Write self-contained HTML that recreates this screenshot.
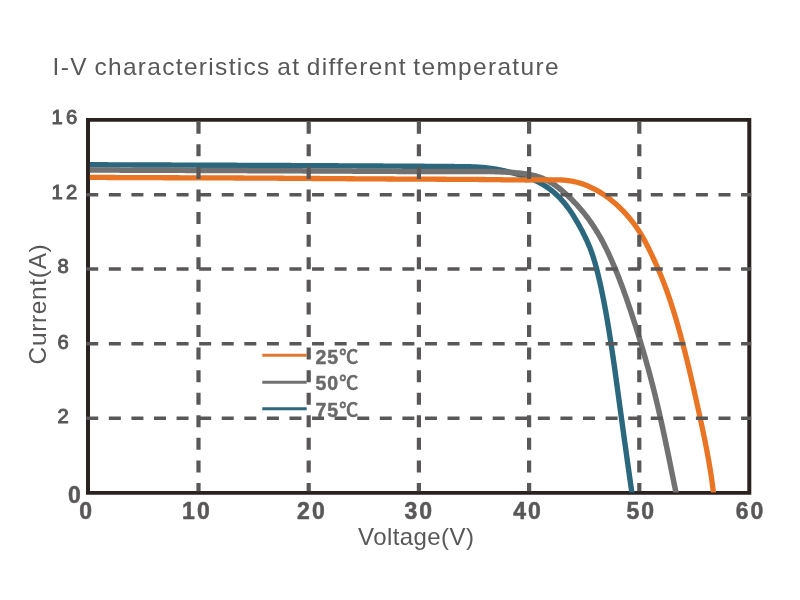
<!DOCTYPE html>
<html lang="en"><head><meta charset="utf-8"><title>I-V characteristics at different temperature</title>
<style>
html,body{margin:0;padding:0;background:#fff;}
body{width:800px;height:600px;overflow:hidden;}
svg{display:block;}
text{font-family:"Liberation Sans","Noto Sans CJK SC",sans-serif;fill:#595757;}
.b{font-weight:bold;}
.k{stroke:#595757;stroke-width:0.5px;}
.m{stroke:#595757;stroke-width:0.95px;}
</style></head><body>
<svg width="800" height="600" viewBox="0 0 800 600">
<rect width="800" height="600" fill="#fff"/>
<path fill-rule="evenodd" fill="#2a2220" d="M86 118.1H751.3V494.7H86Z M90 121.7V491.1H747.3V121.7Z"/>
<defs><clipPath id="cp"><rect x="89.85" y="121.7" width="657.6" height="370.9"/></clipPath></defs>
<g fill="none" stroke-linejoin="round" clip-path="url(#cp)">
<path d="M86.00 164.74 L90.00 164.74 L91.87 164.75 L93.75 164.76 L95.62 164.77 L97.49 164.77 L99.37 164.78 L101.24 164.79 L103.11 164.80 L104.99 164.81 L106.86 164.82 L108.73 164.83 L110.61 164.84 L112.48 164.84 L114.35 164.85 L116.23 164.86 L118.10 164.87 L119.97 164.88 L121.85 164.89 L123.72 164.89 L125.59 164.90 L127.47 164.91 L129.34 164.92 L131.21 164.92 L133.09 164.93 L134.96 164.94 L136.84 164.95 L138.71 164.95 L140.58 164.96 L142.46 164.97 L144.33 164.98 L146.20 164.98 L148.08 164.99 L149.95 165.00 L151.82 165.00 L153.70 165.01 L155.57 165.02 L157.44 165.03 L159.32 165.03 L161.19 165.04 L163.06 165.05 L164.94 165.05 L166.81 165.06 L168.68 165.07 L170.56 165.07 L172.43 165.08 L174.31 165.09 L176.18 165.09 L178.05 165.10 L179.93 165.11 L181.80 165.11 L183.67 165.12 L185.55 165.13 L187.42 165.14 L189.29 165.14 L191.17 165.15 L193.04 165.16 L194.91 165.16 L196.79 165.17 L198.66 165.18 L200.54 165.18 L202.41 165.19 L204.28 165.20 L206.16 165.20 L208.03 165.21 L209.90 165.22 L211.78 165.23 L213.65 165.23 L215.52 165.24 L217.40 165.25 L219.27 165.25 L221.14 165.26 L223.02 165.27 L224.89 165.28 L226.76 165.28 L228.64 165.29 L230.51 165.30 L232.38 165.31 L234.26 165.31 L236.13 165.32 L238.00 165.33 L239.88 165.34 L241.75 165.34 L243.63 165.35 L245.50 165.36 L247.37 165.37 L249.25 165.38 L251.12 165.39 L252.99 165.39 L254.87 165.40 L256.74 165.41 L258.61 165.42 L260.49 165.43 L262.36 165.44 L264.23 165.44 L266.11 165.45 L267.98 165.46 L269.85 165.47 L271.73 165.48 L273.60 165.49 L275.47 165.50 L277.35 165.51 L279.22 165.52 L281.09 165.53 L282.97 165.53 L284.84 165.54 L286.71 165.55 L288.59 165.56 L290.46 165.57 L292.33 165.58 L294.21 165.59 L296.08 165.60 L297.95 165.61 L299.83 165.62 L301.70 165.63 L303.57 165.64 L305.45 165.65 L307.32 165.66 L309.19 165.67 L311.07 165.68 L312.94 165.69 L314.81 165.70 L316.69 165.71 L318.56 165.72 L320.43 165.73 L322.31 165.74 L324.18 165.75 L326.05 165.76 L327.93 165.77 L329.80 165.78 L331.67 165.79 L333.55 165.80 L335.42 165.81 L337.29 165.82 L339.17 165.83 L341.04 165.84 L342.91 165.85 L344.79 165.86 L346.66 165.87 L348.53 165.88 L350.41 165.89 L352.28 165.90 L354.16 165.91 L356.03 165.92 L357.90 165.93 L359.78 165.94 L361.65 165.95 L363.52 165.96 L365.40 165.97 L367.27 165.99 L369.14 166.00 L371.02 166.01 L372.89 166.02 L374.76 166.03 L376.64 166.04 L378.51 166.05 L380.39 166.06 L382.26 166.07 L384.13 166.08 L386.01 166.09 L387.88 166.10 L389.75 166.11 L391.63 166.12 L393.50 166.13 L395.38 166.14 L397.25 166.15 L399.12 166.16 L401.00 166.17 L402.87 166.18 L404.74 166.20 L406.62 166.21 L408.49 166.22 L410.37 166.23 L412.24 166.24 L414.11 166.25 L415.99 166.26 L417.86 166.28 L419.73 166.29 L421.61 166.30 L423.48 166.31 L425.35 166.33 L427.23 166.34 L429.10 166.35 L430.97 166.37 L432.85 166.38 L434.72 166.40 L436.59 166.41 L438.47 166.43 L440.34 166.44 L442.21 166.46 L444.09 166.48 L445.96 166.49 L447.83 166.51 L449.70 166.53 L451.58 166.55 L453.45 166.57 L455.32 166.59 L457.19 166.61 L459.06 166.63 L460.94 166.65 L462.81 166.68 L464.68 166.70 L466.55 166.73 L468.42 166.77 L470.29 166.82 L472.16 166.87 L474.03 166.94 L475.90 167.02 L477.76 167.12 L479.63 167.23 L481.49 167.36 L483.36 167.52 L485.22 167.69 L487.08 167.89 L488.94 168.11 L490.80 168.36 L492.66 168.63 L494.51 168.93 L496.36 169.25 L498.21 169.59 L500.06 169.95 L501.90 170.33 L503.74 170.73 L505.58 171.14 L507.42 171.58 L509.24 172.03 L511.07 172.49 L512.89 172.96 L514.71 173.45 L516.52 173.95 L518.32 174.47 L520.12 174.99 L521.91 175.54 L523.69 176.10 L525.47 176.68 L527.23 177.29 L528.98 177.93 L530.72 178.59 L532.44 179.28 L534.15 180.01 L535.84 180.77 L537.51 181.56 L539.17 182.40 L540.81 183.28 L542.43 184.20 L544.03 185.16 L545.60 186.17 L547.16 187.22 L548.69 188.30 L550.19 189.43 L551.67 190.59 L553.13 191.78 L554.56 193.01 L555.96 194.27 L557.34 195.55 L558.68 196.87 L560.00 198.22 L561.28 199.58 L562.54 200.98 L563.76 202.39 L564.95 203.83 L566.11 205.29 L567.25 206.76 L568.36 208.26 L569.44 209.77 L570.50 211.30 L571.54 212.84 L572.55 214.40 L573.55 215.97 L574.53 217.56 L575.50 219.15 L576.45 220.76 L577.38 222.38 L578.31 224.00 L579.23 225.64 L580.13 227.28 L581.02 228.93 L581.91 230.58 L582.77 232.25 L583.63 233.92 L584.47 235.60 L585.29 237.29 L586.09 238.98 L586.88 240.69 L587.65 242.40 L588.40 244.12 L589.12 245.85 L589.83 247.58 L590.51 249.33 L591.16 251.08 L591.80 252.84 L592.41 254.61 L593.00 256.38 L593.57 258.17 L594.12 259.95 L594.66 261.75 L595.18 263.55 L595.68 265.35 L596.17 267.16 L596.65 268.97 L597.11 270.78 L597.57 272.60 L598.01 274.42 L598.45 276.24 L598.88 278.06 L599.31 279.89 L599.73 281.71 L600.14 283.54 L600.55 285.37 L600.95 287.20 L601.34 289.03 L601.73 290.86 L602.11 292.69 L602.49 294.53 L602.86 296.36 L603.23 298.20 L603.59 300.04 L603.95 301.87 L604.30 303.71 L604.65 305.55 L604.99 307.39 L605.33 309.23 L605.67 311.07 L606.00 312.92 L606.32 314.76 L606.65 316.60 L606.97 318.45 L607.28 320.29 L607.60 322.14 L607.91 323.98 L608.21 325.83 L608.52 327.68 L608.82 329.52 L609.11 331.37 L609.41 333.22 L609.70 335.06 L609.99 336.91 L610.28 338.76 L610.57 340.61 L610.85 342.46 L611.13 344.30 L611.41 346.15 L611.69 348.00 L611.97 349.85 L612.24 351.70 L612.52 353.55 L612.79 355.40 L613.06 357.25 L613.32 359.10 L613.59 360.95 L613.86 362.80 L614.12 364.65 L614.38 366.50 L614.65 368.35 L614.91 370.20 L615.17 372.06 L615.42 373.91 L615.68 375.76 L615.94 377.61 L616.19 379.46 L616.45 381.31 L616.70 383.17 L616.96 385.02 L617.21 386.87 L617.46 388.72 L617.72 390.58 L617.97 392.43 L618.22 394.28 L618.47 396.14 L618.72 397.99 L618.97 399.85 L619.23 401.70 L619.48 403.55 L619.73 405.41 L619.98 407.26 L620.23 409.12 L620.48 410.97 L620.74 412.83 L620.99 414.68 L621.24 416.54 L621.50 418.39 L621.75 420.25 L622.00 422.10 L622.26 423.96 L622.51 425.82 L622.77 427.67 L623.02 429.53 L623.28 431.38 L623.53 433.24 L623.79 435.10 L624.05 436.95 L624.30 438.81 L624.56 440.67 L624.82 442.52 L625.07 444.38 L625.33 446.23 L625.59 448.09 L625.85 449.95 L626.11 451.80 L626.37 453.66 L626.62 455.51 L626.88 457.37 L627.14 459.23 L627.40 461.08 L627.66 462.94 L627.92 464.79 L628.18 466.65 L628.44 468.50 L628.71 470.36 L628.97 472.21 L629.23 474.07 L629.49 475.92 L629.75 477.77 L630.01 479.63 L630.28 481.48 L630.54 483.34 L630.80 485.19 L631.07 487.04 L631.33 488.89 L631.59 490.75 L631.86 492.60 L632.12 494.45" stroke="#2b677d" stroke-width="5.4"/>
<path d="M86.00 170.00 L90.00 170.00 L91.92 170.00 L93.84 170.01 L95.77 170.02 L97.69 170.03 L99.61 170.04 L101.54 170.05 L103.46 170.05 L105.38 170.06 L107.30 170.07 L109.23 170.08 L111.15 170.09 L113.07 170.09 L115.00 170.10 L116.92 170.11 L118.84 170.12 L120.76 170.13 L122.69 170.13 L124.61 170.14 L126.53 170.15 L128.45 170.16 L130.38 170.16 L132.30 170.17 L134.22 170.18 L136.14 170.19 L138.07 170.19 L139.99 170.20 L141.91 170.21 L143.83 170.22 L145.76 170.23 L147.68 170.23 L149.60 170.24 L151.52 170.25 L153.45 170.26 L155.37 170.26 L157.29 170.27 L159.21 170.28 L161.14 170.29 L163.06 170.29 L164.98 170.30 L166.90 170.31 L168.83 170.32 L170.75 170.32 L172.67 170.33 L174.59 170.34 L176.52 170.34 L178.44 170.35 L180.36 170.36 L182.28 170.37 L184.21 170.37 L186.13 170.38 L188.05 170.39 L189.97 170.40 L191.90 170.40 L193.82 170.41 L195.74 170.42 L197.66 170.43 L199.59 170.43 L201.51 170.44 L203.43 170.45 L205.35 170.46 L207.28 170.46 L209.20 170.47 L211.12 170.48 L213.04 170.49 L214.97 170.50 L216.89 170.50 L218.81 170.51 L220.73 170.52 L222.66 170.53 L224.58 170.53 L226.50 170.54 L228.42 170.55 L230.35 170.56 L232.27 170.57 L234.19 170.57 L236.11 170.58 L238.04 170.59 L239.96 170.60 L241.88 170.61 L243.80 170.61 L245.73 170.62 L247.65 170.63 L249.57 170.64 L251.49 170.65 L253.42 170.65 L255.34 170.66 L257.26 170.67 L259.19 170.68 L261.11 170.69 L263.03 170.70 L264.95 170.70 L266.88 170.71 L268.80 170.72 L270.72 170.73 L272.65 170.74 L274.57 170.75 L276.49 170.76 L278.41 170.77 L280.34 170.77 L282.26 170.78 L284.18 170.79 L286.11 170.80 L288.03 170.81 L289.95 170.82 L291.87 170.83 L293.80 170.84 L295.72 170.85 L297.64 170.85 L299.57 170.86 L301.49 170.87 L303.41 170.88 L305.33 170.89 L307.26 170.90 L309.18 170.91 L311.10 170.92 L313.02 170.93 L314.95 170.94 L316.87 170.95 L318.79 170.96 L320.72 170.97 L322.64 170.98 L324.56 170.99 L326.48 171.00 L328.41 171.01 L330.33 171.02 L332.25 171.03 L334.17 171.03 L336.10 171.04 L338.02 171.05 L339.94 171.06 L341.86 171.07 L343.79 171.08 L345.71 171.09 L347.63 171.10 L349.55 171.11 L351.48 171.12 L353.40 171.14 L355.32 171.15 L357.24 171.16 L359.17 171.17 L361.09 171.18 L363.01 171.19 L364.93 171.20 L366.86 171.21 L368.78 171.22 L370.70 171.23 L372.62 171.24 L374.54 171.25 L376.47 171.26 L378.39 171.27 L380.31 171.28 L382.23 171.29 L384.15 171.30 L386.08 171.31 L388.00 171.33 L389.92 171.34 L391.84 171.35 L393.76 171.36 L395.68 171.37 L397.61 171.38 L399.53 171.39 L401.45 171.40 L403.37 171.41 L405.29 171.42 L407.21 171.43 L409.14 171.44 L411.06 171.45 L412.98 171.46 L414.90 171.47 L416.82 171.48 L418.75 171.49 L420.67 171.49 L422.59 171.50 L424.52 171.51 L426.44 171.52 L428.36 171.52 L430.29 171.53 L432.21 171.53 L434.13 171.53 L436.06 171.54 L437.98 171.54 L439.91 171.54 L441.83 171.54 L443.76 171.54 L445.68 171.54 L447.61 171.54 L449.53 171.54 L451.46 171.53 L453.39 171.53 L455.31 171.52 L457.24 171.52 L459.17 171.51 L461.10 171.50 L463.03 171.49 L464.96 171.48 L466.88 171.47 L468.81 171.46 L470.74 171.45 L472.67 171.45 L474.59 171.44 L476.52 171.44 L478.44 171.44 L480.36 171.45 L482.29 171.46 L484.20 171.47 L486.12 171.49 L488.03 171.51 L489.95 171.54 L491.86 171.58 L493.76 171.62 L495.67 171.67 L497.58 171.73 L499.48 171.80 L501.39 171.88 L503.29 171.96 L505.20 172.06 L507.11 172.17 L509.02 172.29 L510.94 172.42 L512.85 172.56 L514.77 172.72 L516.70 172.89 L518.63 173.07 L520.56 173.28 L522.48 173.50 L524.41 173.76 L526.32 174.04 L528.23 174.35 L530.13 174.70 L532.02 175.09 L533.89 175.52 L535.75 175.99 L537.59 176.52 L539.40 177.10 L541.19 177.73 L542.96 178.42 L544.69 179.18 L546.40 180.00 L548.09 180.87 L549.74 181.79 L551.37 182.77 L552.98 183.79 L554.56 184.86 L556.12 185.97 L557.66 187.11 L559.18 188.29 L560.68 189.49 L562.16 190.72 L563.62 191.98 L565.06 193.25 L566.49 194.54 L567.90 195.85 L569.30 197.17 L570.67 198.50 L572.04 199.84 L573.39 201.21 L574.72 202.58 L576.03 203.97 L577.33 205.38 L578.61 206.80 L579.88 208.23 L581.13 209.68 L582.36 211.14 L583.57 212.62 L584.77 214.12 L585.95 215.63 L587.12 217.16 L588.27 218.70 L589.40 220.26 L590.52 221.83 L591.61 223.41 L592.69 225.01 L593.76 226.61 L594.81 228.23 L595.84 229.86 L596.85 231.50 L597.85 233.15 L598.83 234.81 L599.79 236.48 L600.73 238.16 L601.66 239.84 L602.58 241.53 L603.47 243.23 L604.35 244.93 L605.22 246.64 L606.08 248.36 L606.92 250.09 L607.74 251.82 L608.56 253.55 L609.37 255.29 L610.16 257.04 L610.95 258.79 L611.72 260.54 L612.49 262.30 L613.24 264.07 L614.00 265.84 L614.74 267.61 L615.47 269.39 L616.20 271.17 L616.92 272.95 L617.64 274.74 L618.34 276.53 L619.04 278.32 L619.74 280.11 L620.42 281.91 L621.10 283.71 L621.78 285.51 L622.45 287.32 L623.11 289.13 L623.77 290.94 L624.42 292.75 L625.07 294.56 L625.71 296.37 L626.34 298.19 L626.97 300.00 L627.60 301.82 L628.22 303.64 L628.84 305.46 L629.45 307.28 L630.06 309.09 L630.67 310.91 L631.27 312.73 L631.87 314.55 L632.46 316.37 L633.05 318.19 L633.64 320.01 L634.23 321.83 L634.81 323.64 L635.39 325.46 L635.96 327.28 L636.53 329.09 L637.10 330.91 L637.67 332.72 L638.23 334.54 L638.79 336.35 L639.35 338.17 L639.90 339.98 L640.45 341.80 L641.00 343.61 L641.54 345.43 L642.08 347.25 L642.62 349.06 L643.16 350.88 L643.69 352.70 L644.22 354.52 L644.74 356.34 L645.26 358.16 L645.78 359.98 L646.30 361.81 L646.81 363.63 L647.32 365.46 L647.82 367.28 L648.33 369.11 L648.82 370.94 L649.32 372.77 L649.81 374.61 L650.30 376.44 L650.79 378.28 L651.27 380.11 L651.75 381.96 L652.23 383.80 L652.70 385.64 L653.17 387.49 L653.64 389.34 L654.10 391.19 L654.56 393.04 L655.02 394.90 L655.47 396.76 L655.92 398.62 L656.37 400.48 L656.81 402.34 L657.26 404.21 L657.70 406.08 L658.13 407.95 L658.57 409.82 L659.00 411.69 L659.42 413.56 L659.85 415.44 L660.27 417.32 L660.69 419.19 L661.11 421.07 L661.53 422.95 L661.94 424.84 L662.36 426.72 L662.77 428.60 L663.18 430.48 L663.58 432.37 L663.99 434.25 L664.39 436.14 L664.79 438.03 L665.19 439.91 L665.59 441.80 L665.98 443.68 L666.38 445.57 L666.77 447.46 L667.16 449.35 L667.55 451.23 L667.94 453.12 L668.33 455.00 L668.72 456.89 L669.11 458.77 L669.49 460.66 L669.88 462.54 L670.26 464.43 L670.64 466.31 L671.02 468.19 L671.41 470.07 L671.79 471.95 L672.17 473.83 L672.55 475.71 L672.93 477.58 L673.31 479.46 L673.68 481.33 L674.06 483.20 L674.44 485.07 L674.82 486.94 L675.20 488.81 L675.58 490.67 L675.96 492.53 L676.34 494.40" stroke="#727171" stroke-width="5.5"/>
<path d="M86.00 177.37 L90.00 177.37 L92.01 177.38 L94.02 177.40 L96.03 177.41 L98.03 177.42 L100.04 177.44 L102.05 177.45 L104.06 177.46 L106.07 177.47 L108.08 177.48 L110.08 177.50 L112.09 177.51 L114.10 177.52 L116.11 177.53 L118.12 177.54 L120.13 177.55 L122.13 177.56 L124.14 177.57 L126.15 177.58 L128.16 177.59 L130.17 177.60 L132.18 177.60 L134.18 177.61 L136.19 177.62 L138.20 177.63 L140.21 177.64 L142.22 177.65 L144.23 177.65 L146.23 177.66 L148.24 177.67 L150.25 177.68 L152.26 177.68 L154.27 177.69 L156.28 177.70 L158.28 177.71 L160.29 177.71 L162.30 177.72 L164.31 177.73 L166.32 177.73 L168.33 177.74 L170.33 177.75 L172.34 177.75 L174.35 177.76 L176.36 177.76 L178.37 177.77 L180.38 177.78 L182.39 177.78 L184.39 177.79 L186.40 177.80 L188.41 177.80 L190.42 177.81 L192.43 177.82 L194.44 177.82 L196.44 177.83 L198.45 177.84 L200.46 177.84 L202.47 177.85 L204.48 177.86 L206.49 177.86 L208.49 177.87 L210.50 177.88 L212.51 177.89 L214.52 177.89 L216.53 177.90 L218.54 177.91 L220.54 177.92 L222.55 177.93 L224.56 177.93 L226.57 177.94 L228.58 177.95 L230.59 177.96 L232.59 177.97 L234.60 177.98 L236.61 177.99 L238.62 178.00 L240.63 178.01 L242.64 178.02 L244.64 178.03 L246.65 178.04 L248.66 178.05 L250.67 178.06 L252.68 178.07 L254.69 178.08 L256.69 178.10 L258.70 178.11 L260.71 178.12 L262.72 178.13 L264.73 178.14 L266.74 178.16 L268.74 178.17 L270.75 178.18 L272.76 178.20 L274.77 178.21 L276.78 178.22 L278.79 178.24 L280.79 178.25 L282.80 178.26 L284.81 178.28 L286.82 178.29 L288.83 178.30 L290.84 178.32 L292.84 178.33 L294.85 178.35 L296.86 178.36 L298.87 178.38 L300.88 178.39 L302.89 178.40 L304.89 178.42 L306.90 178.43 L308.91 178.45 L310.92 178.46 L312.93 178.48 L314.94 178.49 L316.94 178.51 L318.95 178.52 L320.96 178.54 L322.97 178.55 L324.98 178.57 L326.99 178.58 L328.99 178.60 L331.00 178.61 L333.01 178.62 L335.02 178.64 L337.03 178.65 L339.04 178.67 L341.04 178.68 L343.05 178.70 L345.06 178.71 L347.07 178.73 L349.08 178.74 L351.09 178.75 L353.09 178.77 L355.10 178.78 L357.11 178.80 L359.12 178.81 L361.13 178.82 L363.14 178.84 L365.14 178.85 L367.15 178.86 L369.16 178.88 L371.17 178.89 L373.18 178.90 L375.19 178.91 L377.19 178.93 L379.20 178.94 L381.21 178.95 L383.22 178.96 L385.23 178.97 L387.24 178.99 L389.25 179.00 L391.25 179.01 L393.26 179.02 L395.27 179.03 L397.28 179.04 L399.29 179.05 L401.30 179.06 L403.30 179.07 L405.31 179.08 L407.32 179.09 L409.33 179.10 L411.34 179.11 L413.35 179.12 L415.35 179.13 L417.36 179.14 L419.37 179.15 L421.38 179.16 L423.39 179.16 L425.40 179.17 L427.40 179.18 L429.41 179.19 L431.42 179.20 L433.43 179.21 L435.44 179.22 L437.45 179.23 L439.45 179.24 L441.46 179.25 L443.47 179.26 L445.48 179.27 L447.49 179.28 L449.50 179.29 L451.50 179.30 L453.51 179.31 L455.52 179.32 L457.53 179.33 L459.54 179.34 L461.55 179.35 L463.55 179.36 L465.56 179.38 L467.57 179.39 L469.58 179.40 L471.59 179.41 L473.59 179.43 L475.60 179.44 L477.61 179.46 L479.62 179.48 L481.63 179.50 L483.64 179.52 L485.65 179.54 L487.66 179.56 L489.66 179.58 L491.67 179.61 L493.68 179.64 L495.69 179.66 L497.70 179.69 L499.71 179.72 L501.72 179.75 L503.73 179.78 L505.73 179.80 L507.74 179.83 L509.75 179.85 L511.76 179.88 L513.77 179.90 L515.77 179.92 L517.78 179.94 L519.79 179.95 L521.79 179.96 L523.80 179.97 L525.80 179.98 L527.81 179.98 L529.82 179.98 L531.82 179.97 L533.83 179.97 L535.84 179.96 L537.85 179.94 L539.86 179.93 L541.87 179.90 L543.88 179.88 L545.90 179.85 L547.91 179.82 L549.93 179.80 L551.94 179.78 L553.95 179.78 L555.96 179.80 L557.97 179.84 L559.98 179.91 L561.98 180.01 L563.98 180.14 L565.97 180.32 L567.95 180.55 L569.93 180.82 L571.90 181.15 L573.87 181.54 L575.82 181.98 L577.77 182.48 L579.70 183.04 L581.62 183.65 L583.52 184.30 L585.42 185.01 L587.29 185.76 L589.15 186.55 L590.99 187.39 L592.80 188.27 L594.60 189.18 L596.38 190.14 L598.13 191.12 L599.85 192.14 L601.56 193.20 L603.23 194.28 L604.89 195.40 L606.52 196.54 L608.13 197.72 L609.72 198.92 L611.29 200.15 L612.83 201.42 L614.36 202.70 L615.86 204.02 L617.34 205.36 L618.81 206.73 L620.25 208.12 L621.68 209.53 L623.09 210.97 L624.47 212.43 L625.84 213.91 L627.18 215.42 L628.50 216.95 L629.80 218.49 L631.08 220.06 L632.33 221.64 L633.55 223.24 L634.75 224.86 L635.92 226.50 L637.07 228.15 L638.18 229.82 L639.27 231.51 L640.33 233.21 L641.37 234.92 L642.38 236.64 L643.37 238.38 L644.34 240.12 L645.30 241.88 L646.23 243.65 L647.15 245.42 L648.05 247.20 L648.94 248.99 L649.82 250.79 L650.69 252.59 L651.55 254.40 L652.40 256.21 L653.25 258.03 L654.09 259.84 L654.92 261.67 L655.74 263.50 L656.56 265.33 L657.37 267.16 L658.16 269.00 L658.95 270.85 L659.73 272.69 L660.50 274.55 L661.26 276.40 L662.01 278.26 L662.75 280.12 L663.48 281.99 L664.20 283.86 L664.91 285.74 L665.61 287.61 L666.30 289.49 L666.98 291.38 L667.66 293.27 L668.32 295.16 L668.98 297.05 L669.62 298.95 L670.26 300.85 L670.89 302.75 L671.52 304.66 L672.13 306.57 L672.74 308.48 L673.34 310.39 L673.93 312.31 L674.52 314.23 L675.10 316.15 L675.68 318.07 L676.24 320.00 L676.81 321.92 L677.36 323.85 L677.91 325.78 L678.46 327.71 L679.00 329.65 L679.54 331.58 L680.07 333.52 L680.59 335.45 L681.12 337.39 L681.64 339.33 L682.15 341.27 L682.66 343.22 L683.17 345.16 L683.67 347.10 L684.17 349.05 L684.67 351.00 L685.16 352.94 L685.65 354.89 L686.14 356.84 L686.62 358.79 L687.10 360.74 L687.58 362.69 L688.05 364.64 L688.52 366.60 L688.99 368.55 L689.45 370.50 L689.92 372.46 L690.38 374.41 L690.84 376.37 L691.29 378.33 L691.75 380.28 L692.20 382.24 L692.65 384.20 L693.09 386.16 L693.54 388.12 L693.98 390.08 L694.43 392.04 L694.87 394.00 L695.31 395.96 L695.74 397.92 L696.18 399.88 L696.62 401.84 L697.05 403.80 L697.48 405.76 L697.92 407.72 L698.35 409.68 L698.78 411.65 L699.21 413.61 L699.63 415.57 L700.06 417.53 L700.49 419.49 L700.91 421.45 L701.33 423.42 L701.75 425.38 L702.17 427.34 L702.58 429.31 L703.00 431.27 L703.40 433.24 L703.81 435.20 L704.21 437.17 L704.61 439.13 L705.01 441.10 L705.40 443.07 L705.79 445.04 L706.17 447.01 L706.55 448.98 L706.93 450.95 L707.30 452.92 L707.66 454.89 L708.02 456.87 L708.38 458.84 L708.73 460.82 L709.07 462.80 L709.41 464.78 L709.74 466.76 L710.07 468.74 L710.39 470.72 L710.70 472.71 L711.01 474.69 L711.31 476.68 L711.60 478.67 L711.89 480.66 L712.16 482.65 L712.43 484.64 L712.70 486.64 L712.95 488.64 L713.20 490.64 L713.43 492.64 L713.67 494.64" stroke="#e97424" stroke-width="5.3"/>
</g>
<g stroke="#595757" fill="none" stroke-dasharray="12 10.58">
<line x1="198.5" y1="121.75" x2="198.5" y2="491.2" stroke-width="4.2"/>
<line x1="308.7" y1="121.75" x2="308.7" y2="491.2" stroke-width="4.2"/>
<line x1="418.9" y1="121.75" x2="418.9" y2="491.2" stroke-width="4.2"/>
<line x1="529.1" y1="121.75" x2="529.1" y2="491.2" stroke-width="4.2"/>
<line x1="639.3" y1="121.75" x2="639.3" y2="491.2" stroke-width="4.2"/>
</g>
<g stroke="#595757" fill="none" stroke-dasharray="12 10.58">
<line x1="86.25" y1="194.7" x2="751.2" y2="194.7" stroke-width="3.5"/>
<line x1="86.25" y1="269.0" x2="751.2" y2="269.0" stroke-width="3.5"/>
<line x1="86.25" y1="343.7" x2="751.2" y2="343.7" stroke-width="3.5"/>
<line x1="86.25" y1="418.25" x2="751.2" y2="418.25" stroke-width="3.5"/>
</g>
<text transform="translate(52.6 74.9) scale(1.045 1)" font-size="23.4" letter-spacing="1.28" word-spacing="-1.5">I-V characteristics at different temperature</text>
<text class="m" x="80.5" y="123.9" font-size="20.2" text-anchor="end" letter-spacing="3.3">16</text>
<text class="m" x="80.5" y="199.2" font-size="20.2" text-anchor="end" letter-spacing="3.3">12</text>
<text class="m" x="72.0" y="272.8" font-size="20.2" text-anchor="end" letter-spacing="3.3">8</text>
<text class="m" x="72.0" y="349.2" font-size="20.2" text-anchor="end" letter-spacing="3.3">6</text>
<text class="m" x="72.0" y="423.0" font-size="20.2" text-anchor="end" letter-spacing="3.3">2</text>
<text x="74.4" y="502.5" font-size="23" text-anchor="middle" class="b k">0</text>
<text class="b k" x="86.6" y="519" font-size="23" text-anchor="middle" letter-spacing="2">0</text>
<text class="b k" x="196.9" y="519" font-size="23" text-anchor="middle" letter-spacing="2">10</text>
<text class="b k" x="311.9" y="519" font-size="23" text-anchor="middle" letter-spacing="2">20</text>
<text class="b k" x="419.2" y="519" font-size="23" text-anchor="middle" letter-spacing="2">30</text>
<text class="b k" x="528.1" y="519" font-size="23" text-anchor="middle" letter-spacing="2">40</text>
<text class="b k" x="641.3" y="519" font-size="23" text-anchor="middle" letter-spacing="2">50</text>
<text class="b k" x="750.6" y="519" font-size="23" text-anchor="middle" letter-spacing="2">60</text>
<text transform="translate(416.2 545.4) scale(1.045 1)" font-size="23" text-anchor="middle" letter-spacing="0.4">Voltage(V)</text>
<text transform="translate(45.8 304) rotate(-90) scale(1.045 1)" font-size="23.4" text-anchor="middle" letter-spacing="0.65">Current(A)</text>
<line x1="262.3" y1="355.25" x2="306.7" y2="355.25" stroke="#e0782f" stroke-width="3"/>
<text class="b" x="315.4" y="363.7" font-size="19.5" letter-spacing="1.1" style="fill:#6b6a6a;stroke:#6b6a6a;stroke-width:0.45">25<tspan style="font-weight:500;stroke-width:0.6" letter-spacing="0" font-size="19">℃</tspan></text>
<line x1="262.3" y1="382.2" x2="306.7" y2="382.2" stroke="#727171" stroke-width="3"/>
<text class="b" x="315.4" y="390.0" font-size="19.5" letter-spacing="1.1" style="fill:#6b6a6a;stroke:#6b6a6a;stroke-width:0.45">50<tspan style="font-weight:500;stroke-width:0.6" letter-spacing="0" font-size="19">℃</tspan></text>
<line x1="262.3" y1="408.8" x2="306.7" y2="408.8" stroke="#2b677d" stroke-width="3"/>
<text class="b" x="315.4" y="416.9" font-size="19.5" letter-spacing="1.1" style="fill:#6b6a6a;stroke:#6b6a6a;stroke-width:0.45">75<tspan style="font-weight:500;stroke-width:0.6" letter-spacing="0" font-size="19">℃</tspan></text>
</svg></body></html>
